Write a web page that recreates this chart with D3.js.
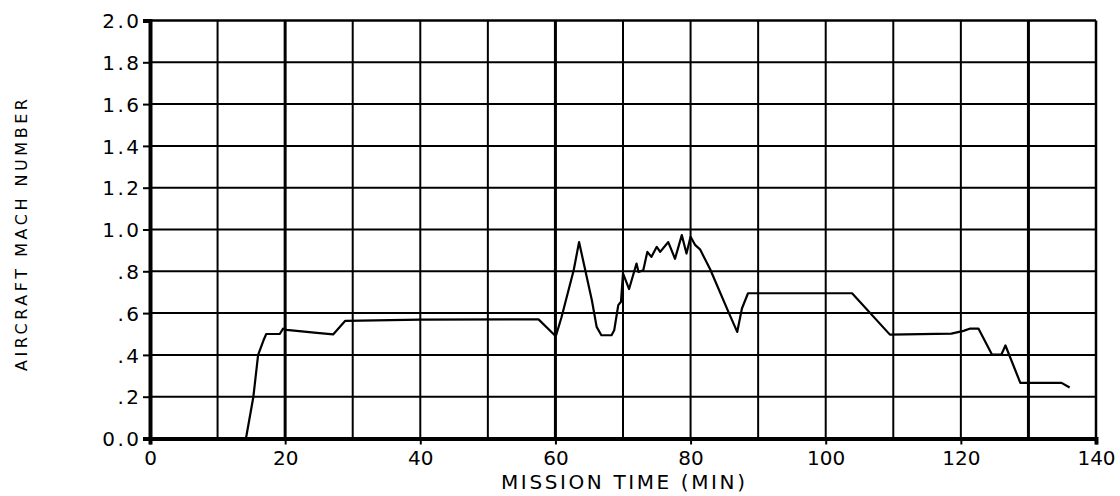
<!DOCTYPE html>
<html>
<head>
<meta charset="utf-8">
<script src="https://cdn.jsdelivr.net/npm/d3@7"></script>
<style>
  html, body { margin: 0; padding: 0; background: #fff; }
  svg { display: block; }
  text { font-family: "DejaVu Sans", sans-serif; fill: #000; }
</style>
</head>
<body>
<svg id="chart" width="1120" height="496"></svg>
<script>
// Mission profile: aircraft Mach number against mission time (minutes)
const timeMin = [14.2, 15.3, 16.0, 16.8, 17.2, 19.2, 19.7, 20.2, 23.2, 24.7, 27.1, 28.9, 40.0, 57.5, 59.9, 60.1,
  60.9, 62.7, 63.5, 65.4, 66.1, 66.8, 68.3, 68.7, 69.3, 69.7, 70.0, 70.9, 72.0, 72.3, 73.0, 73.6, 74.2, 75.0,
  75.5, 76.7, 77.7, 78.7, 79.4, 80.0, 80.7, 81.4, 82.9, 85.6, 86.9, 87.6, 88.5, 103.9, 109.5, 118.6, 120.4,
  121.4, 122.6, 124.6, 126.0, 126.6, 128.8, 134.9, 136.1];
const machNumber = [0.0, 0.2, 0.4, 0.47, 0.5, 0.5, 0.526, 0.52, 0.51, 0.505, 0.498, 0.563, 0.569, 0.57, 0.494, 0.494,
  0.58, 0.805, 0.94, 0.66, 0.534, 0.494, 0.494, 0.518, 0.638, 0.654, 0.79, 0.715, 0.837, 0.797, 0.805, 0.893, 0.869, 0.917,
  0.893, 0.94, 0.86, 0.973, 0.885, 0.965, 0.925, 0.905, 0.81, 0.606, 0.51, 0.622, 0.695, 0.695, 0.497, 0.502, 0.515,
  0.526, 0.526, 0.402, 0.402, 0.445, 0.266, 0.266, 0.244];

const xTickValues = [0, 20, 40, 60, 80, 100, 120, 140];
const xTickLabels = ["0", "20", "40", "60", "80", "100", "120", "140"];
const yTickValues = [0.0, 0.2, 0.4, 0.6, 0.8, 1.0, 1.2, 1.4, 1.6, 1.8, 2.0];
const yTickLabels = ["0.0", ".2", ".4", ".6", ".8", "1.0", "1.2", "1.4", "1.6", "1.8", "2.0"];
const xGridValues = [10, 20, 30, 40, 50, 60, 70, 80, 90, 100, 110, 120, 130];
const heavyGrid = [20, 60, 130];

const xTitle = "MISSION TIME (MIN)";
const yTitle = "AIRCRAFT MACH NUMBER";

const svg = d3.select("#chart");
const x = d3.scaleLinear().domain([0, 140]).range([150, 1096]);
const y = d3.scaleLinear().domain([0, 2]).range([438.5, 20.5]);

// grid
const grid = svg.append("g");
grid.selectAll("line.h").data(yTickValues.filter(v => v > 0 && v < 2)).join("line")
  .attr("x1", x(0)).attr("x2", x(140))
  .attr("y1", d => y(d)).attr("y2", d => y(d))
  .attr("stroke", "#000").attr("stroke-width", 2);
grid.selectAll("line.v").data(xGridValues).join("line")
  .attr("y1", y(0)).attr("y2", y(2))
  .attr("x1", d => x(d)).attr("x2", d => x(d))
  .attr("stroke", "#000").attr("stroke-width", d => heavyGrid.includes(d) ? 3 : 2);

// frame: heavy left and bottom axes, lighter top and right edges
svg.append("line").attr("x1", x(0)).attr("x2", x(140)).attr("y1", y(2)).attr("y2", y(2))
  .attr("stroke", "#000").attr("stroke-width", 2.5);
svg.append("line").attr("x1", x(140)).attr("x2", x(140)).attr("y1", y(0)).attr("y2", y(2))
  .attr("stroke", "#000").attr("stroke-width", 2.5);

// axes via d3 axis generators
const xAxis = svg.append("g").attr("transform", `translate(0,${y(0)})`)
  .call(d3.axisBottom(x).tickValues(xTickValues).tickFormat((d, i) => xTickLabels[i]).tickSize(6).tickPadding(6));
const yAxis = svg.append("g").attr("transform", `translate(${x(0)},0)`)
  .call(d3.axisLeft(y).tickValues(yTickValues).tickFormat((d, i) => yTickLabels[i]).tickSize(7).tickPadding(4));

[xAxis, yAxis].forEach(g => {
  g.select(".domain").attr("stroke", "#000").attr("stroke-width", 4);
  g.selectAll(".tick line").attr("stroke", "#000").attr("stroke-width", 2);
  g.selectAll(".tick text").attr("font-size", 20).attr("font-family", "DejaVu Sans, sans-serif")
    .attr("fill", "#000");
});
yAxis.selectAll(".tick text").attr("letter-spacing", "2.5px").attr("dx", "2.5px").attr("dy", "0.36em");
xAxis.selectAll(".tick text").attr("dy", "0.7em");

// data line
const line = d3.line().x(d => x(d[0])).y(d => y(d[1]));
svg.append("path")
  .datum(timeMin.map((t, i) => [t, machNumber[i]]))
  .attr("d", line)
  .attr("fill", "none").attr("stroke", "#000").attr("stroke-width", 2.2)
  .attr("stroke-linejoin", "round");

// axis titles
svg.append("text")
  .attr("x", (x(0) + x(140)) / 2).attr("y", 489)
  .attr("text-anchor", "middle").attr("font-size", 20)
  .attr("textLength", 244).attr("lengthAdjust", "spacing")
  .text(xTitle);
svg.append("text")
  .attr("transform", "translate(27,235) rotate(-90)")
  .attr("text-anchor", "middle").attr("font-size", 16)
  .attr("textLength", 272).attr("lengthAdjust", "spacing")
  .text(yTitle);
</script>
</body>
</html>
